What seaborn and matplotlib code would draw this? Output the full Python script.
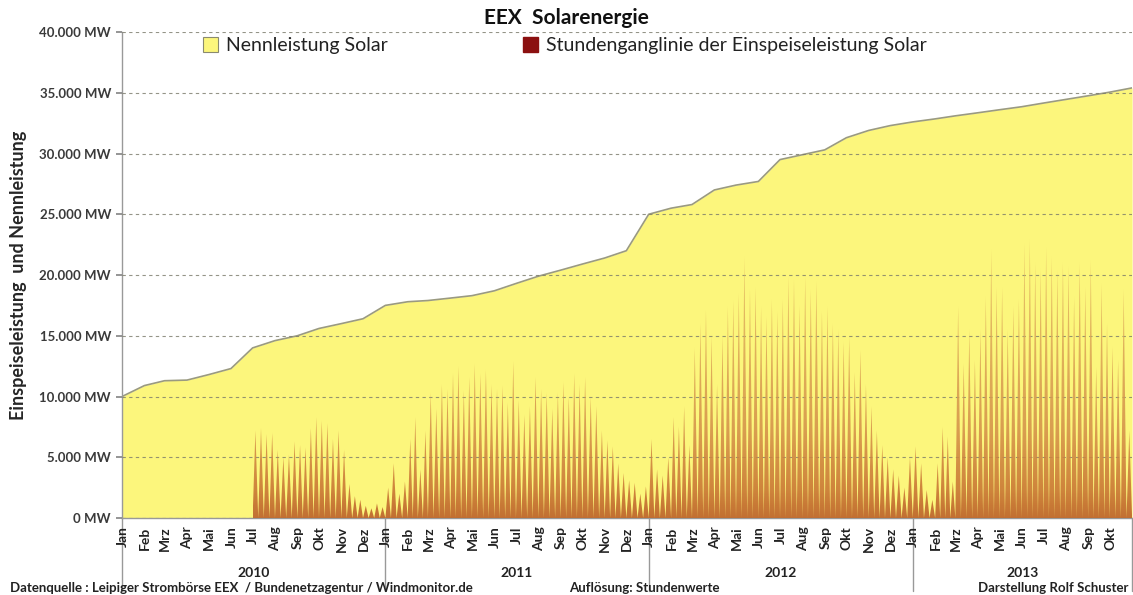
import numpy as np
import pandas as pd
import matplotlib
matplotlib.use('Agg')
import matplotlib.pyplot as plt
import matplotlib.dates as mdates
import matplotlib.transforms as mtransforms
from matplotlib.patches import Patch, PathPatch
from matplotlib.path import Path
from matplotlib.colors import LinearSegmentedColormap
import seaborn as sns

# Monatsnamen und Jahre
monate = ['Jan', 'Feb', 'Mrz', 'Apr', 'Mai', 'Jun', 'Jul', 'Aug', 'Sep', 'Okt', 'Nov', 'Dez']
jahre = ['2010', '2011', '2012', '2013']

# Nennleistung Solar (MW) jeweils am Monatsanfang, Jan 2010 .. Nov 2013
nenn_2010 = [10000, 10900, 11300, 11350, 11800, 12300, 14000, 14600, 15000, 15600, 16000, 16400]
nenn_2011 = [17500, 17800, 17900, 18100, 18300, 18700, 19300, 19900, 20400, 20900, 21400, 22000]
nenn_2012 = [25000, 25500, 25800, 27000, 27400, 27700, 29500, 29900, 30300, 31300, 31900, 32300]
nenn_2013 = [32600, 32850, 33100, 33350, 33600, 33850, 34150, 34450, 34750, 35050, 35400]

# Spitzen der Einspeiseleistung (MW), vier Werte je Monat (Viertelmonat)
# 2010: Jul..Dez, 2011: Jan..Dez, 2012: Jan..Dez, 2013: Jan..Okt
spitze_2010 = [7200, 7400, 6900, 7000,   5600, 5000, 5200, 6300,   6000, 5800, 7400, 8300,
               8000, 7800, 6500, 7200,   5600, 2800, 1800, 1500,   1000, 800, 1200, 900]
spitze_2011 = [2500, 4500, 2000, 3000,   6500, 8300, 4000, 7200,   10300, 9000, 11000, 10600,
               11900, 12500, 10500, 11600,   12700, 11900, 12200, 11000,   10600, 10900, 9500, 12900,
               9700, 8500, 9200, 11600,   10600, 10300, 9000, 10300,   11200, 10000, 11900, 11000,
               11600, 10000, 9200, 7200,   6400, 5900, 4500, 3700,   3100, 2900, 2000, 2600]
spitze_2012 = [6500, 4000, 3500, 5000,   8300, 7500, 9200, 6000,   14000, 16000, 17100, 15000,
               11000, 15000, 17400, 17900,   18500, 21500, 18800, 19000,   17400, 16600, 18000, 17000,
               18000, 19900, 19600, 17500,   19900, 18800, 19500, 17000,   17400, 16000, 15500, 14500,
               14900, 12000, 13800, 11000,   9200, 7200, 6000, 5000,   4000, 3500, 2500, 5000]
spitze_2013 = [5900, 4500, 2300, 1500,   4500, 7500, 6700, 3000,   17400, 12700, 15500, 13000,
               15500, 18200, 22100, 19000,   19000, 15500, 17400, 18000,   22600, 22900, 21000, 20500,
               22300, 21500, 20400, 21000,   20700, 18200, 21000, 19000,   21200, 12400, 19300, 16000,
               14100, 13000, 18800, 7200]

ytick_labels = ['0 MW', '5.000 MW', '10.000 MW', '15.000 MW', '20.000 MW',
                '25.000 MW', '30.000 MW', '35.000 MW', '40.000 MW']

# Daten aufbereiten
nenn = pd.DataFrame({
    'Datum': pd.date_range('2010-01-01', '2013-11-01', freq='MS'),
    'Nennleistung': nenn_2010 + nenn_2011 + nenn_2012 + nenn_2013,
})
spitzen = spitze_2010 + spitze_2011 + spitze_2012 + spitze_2013
spitzen_monate = pd.date_range('2010-07-01', '2013-10-01', freq='MS')

sns.set_theme(style='white')
plt.rcParams['font.family'] = ['Lato', 'DejaVu Sans']

fig = plt.figure(figsize=(11.33, 5.95), dpi=100)
ax = fig.add_axes([0.1077, 0.1294, 0.8915, 0.8168])

gelb = '#fcf67c'
sns.lineplot(data=nenn, x='Datum', y='Nennleistung', ax=ax, color='#9a9a80', lw=1.2, zorder=2)
ax.fill_between(nenn['Datum'], 0, nenn['Nennleistung'], color=gelb, zorder=1, lw=0)

# Spitzen als schmale Dreiecke, Farbe mit Verlauf
verts, codes = [], []
k = 0
for m in spitzen_monate:
    s = mdates.date2num(m)
    L = mdates.date2num(m + pd.offsets.MonthBegin(1)) - s
    for i in range(4):
        x0 = s + i * L / 4
        x1 = s + (i + 1) * L / 4
        verts += [(x0, 0), ((x0 + x1) / 2, spitzen[k]), (x1, 0), (x0, 0)]
        codes += [Path.MOVETO, Path.LINETO, Path.LINETO, Path.CLOSEPOLY]
        k += 1
pfad = PathPatch(Path(verts, codes), facecolor='none', edgecolor='none', transform=ax.transData)
ax.add_patch(pfad)

cmap = LinearSegmentedColormap.from_list('einspeisung', [
    (0.0, '#bb5e28'), (0.1, '#c97634'), (0.3, '#d5924a'), (0.6, '#ddaa58'), (1.0, '#e6c068')])
xa = mdates.date2num(pd.Timestamp('2010-07-01'))
xb = mdates.date2num(pd.Timestamp('2013-11-01'))
grad = np.linspace(0, 1, 256).reshape(-1, 1)
im = ax.imshow(grad, cmap=cmap, extent=[xa, xb, 0, 24000], origin='lower', aspect='auto',
               zorder=3, alpha=0.88)
im.set_clip_path(pfad)

# Achsen
x_start = pd.Timestamp('2010-01-01')
x_end = pd.Timestamp('2013-11-01')
ax.set_xlim(x_start, x_end)
ax.set_ylim(0, 40000)
ax.set_yticks(range(0, 40001, 5000))
ax.set_yticklabels(ytick_labels, fontsize=9.5, fontweight='bold', color='#3a3a3a')
ax.tick_params(axis='y', length=4, color='#888888', left=True, pad=4)

monatsanfaenge = pd.date_range('2010-01-01', '2013-10-01', freq='MS')
ax.set_xticks(monatsanfaenge)
ax.set_xticklabels([monate[d.month - 1] for d in monatsanfaenge], rotation=90,
                   fontsize=10, fontweight='bold', color='#222222', ha='left', va='top')
ax.tick_params(axis='x', length=0, pad=6)
for lab in ax.get_xticklabels():
    lab.set_transform(lab.get_transform() + mtransforms.ScaledTranslation(-4 / 72, 0, fig.dpi_scale_trans))

ax.set_xlabel('')
ax.set_ylabel('Einspeiseleistung  und Nennleistung', fontsize=13, fontweight='bold', labelpad=9)

ax.grid(axis='y', ls=(0, (3, 3)), color='#7a7a6a', lw=0.8, alpha=0.8)
ax.grid(axis='x', visible=False)
ax.set_axisbelow(False)
for sp in ['top', 'right']:
    ax.spines[sp].set_visible(False)
for sp in ['left', 'bottom']:
    ax.spines[sp].set_color('#999999')
    ax.spines[sp].set_linewidth(1.0)

# Jahreszahlen und Trennlinien
trans = mtransforms.blended_transform_factory(ax.transData, ax.transAxes)
jahresgrenzen = [pd.Timestamp(f'{j}-01-01') for j in jahre] + [x_end]
for i, j in enumerate(jahre):
    mitte = jahresgrenzen[i] + (jahresgrenzen[i + 1] - jahresgrenzen[i]) / 2
    ax.text(mitte, -0.113, j, transform=trans, ha='center', va='center',
            fontsize=10, fontweight='bold', color='#222222')
for g in jahresgrenzen:
    ax.plot([g, g], [0, -0.15], transform=trans, color='#999999', lw=1.0, clip_on=False)

# Legende
handles = [Patch(facecolor=gelb, edgecolor='#8a8a70', lw=0.8),
           Patch(facecolor='#8b1010', edgecolor='#8b1010')]
ax.legend(handles, ['Nennleistung Solar', 'Stundenganglinie der Einspeiseleistung Solar'],
          loc='upper left', bbox_to_anchor=(0.063, 1.025), ncol=2, frameon=False,
          fontsize=14, handlelength=0.75, handleheight=0.75, handletextpad=0.4,
          columnspacing=7.0, labelcolor='#222222')

fig.text(0.5, 0.97, 'EEX  Solarenergie', ha='center', va='center', fontsize=15, fontweight='bold',
         color='#111111')
fig.text(0.009, 0.012, 'Datenquelle : Leipiger Strombörse EEX  / Bundenetzagentur / Windmonitor.de',
         ha='left', va='center', fontsize=9.5, fontweight='bold', color='#222222')
fig.text(0.502, 0.012, 'Auflösung: Stundenwerte', ha='left', va='center', fontsize=9.5,
         fontweight='bold', color='#222222')
fig.text(0.996, 0.012, 'Darstellung Rolf Schuster', ha='right', va='center', fontsize=9.5,
         fontweight='bold', color='#222222')

fig.savefig('out.png', dpi=100)
